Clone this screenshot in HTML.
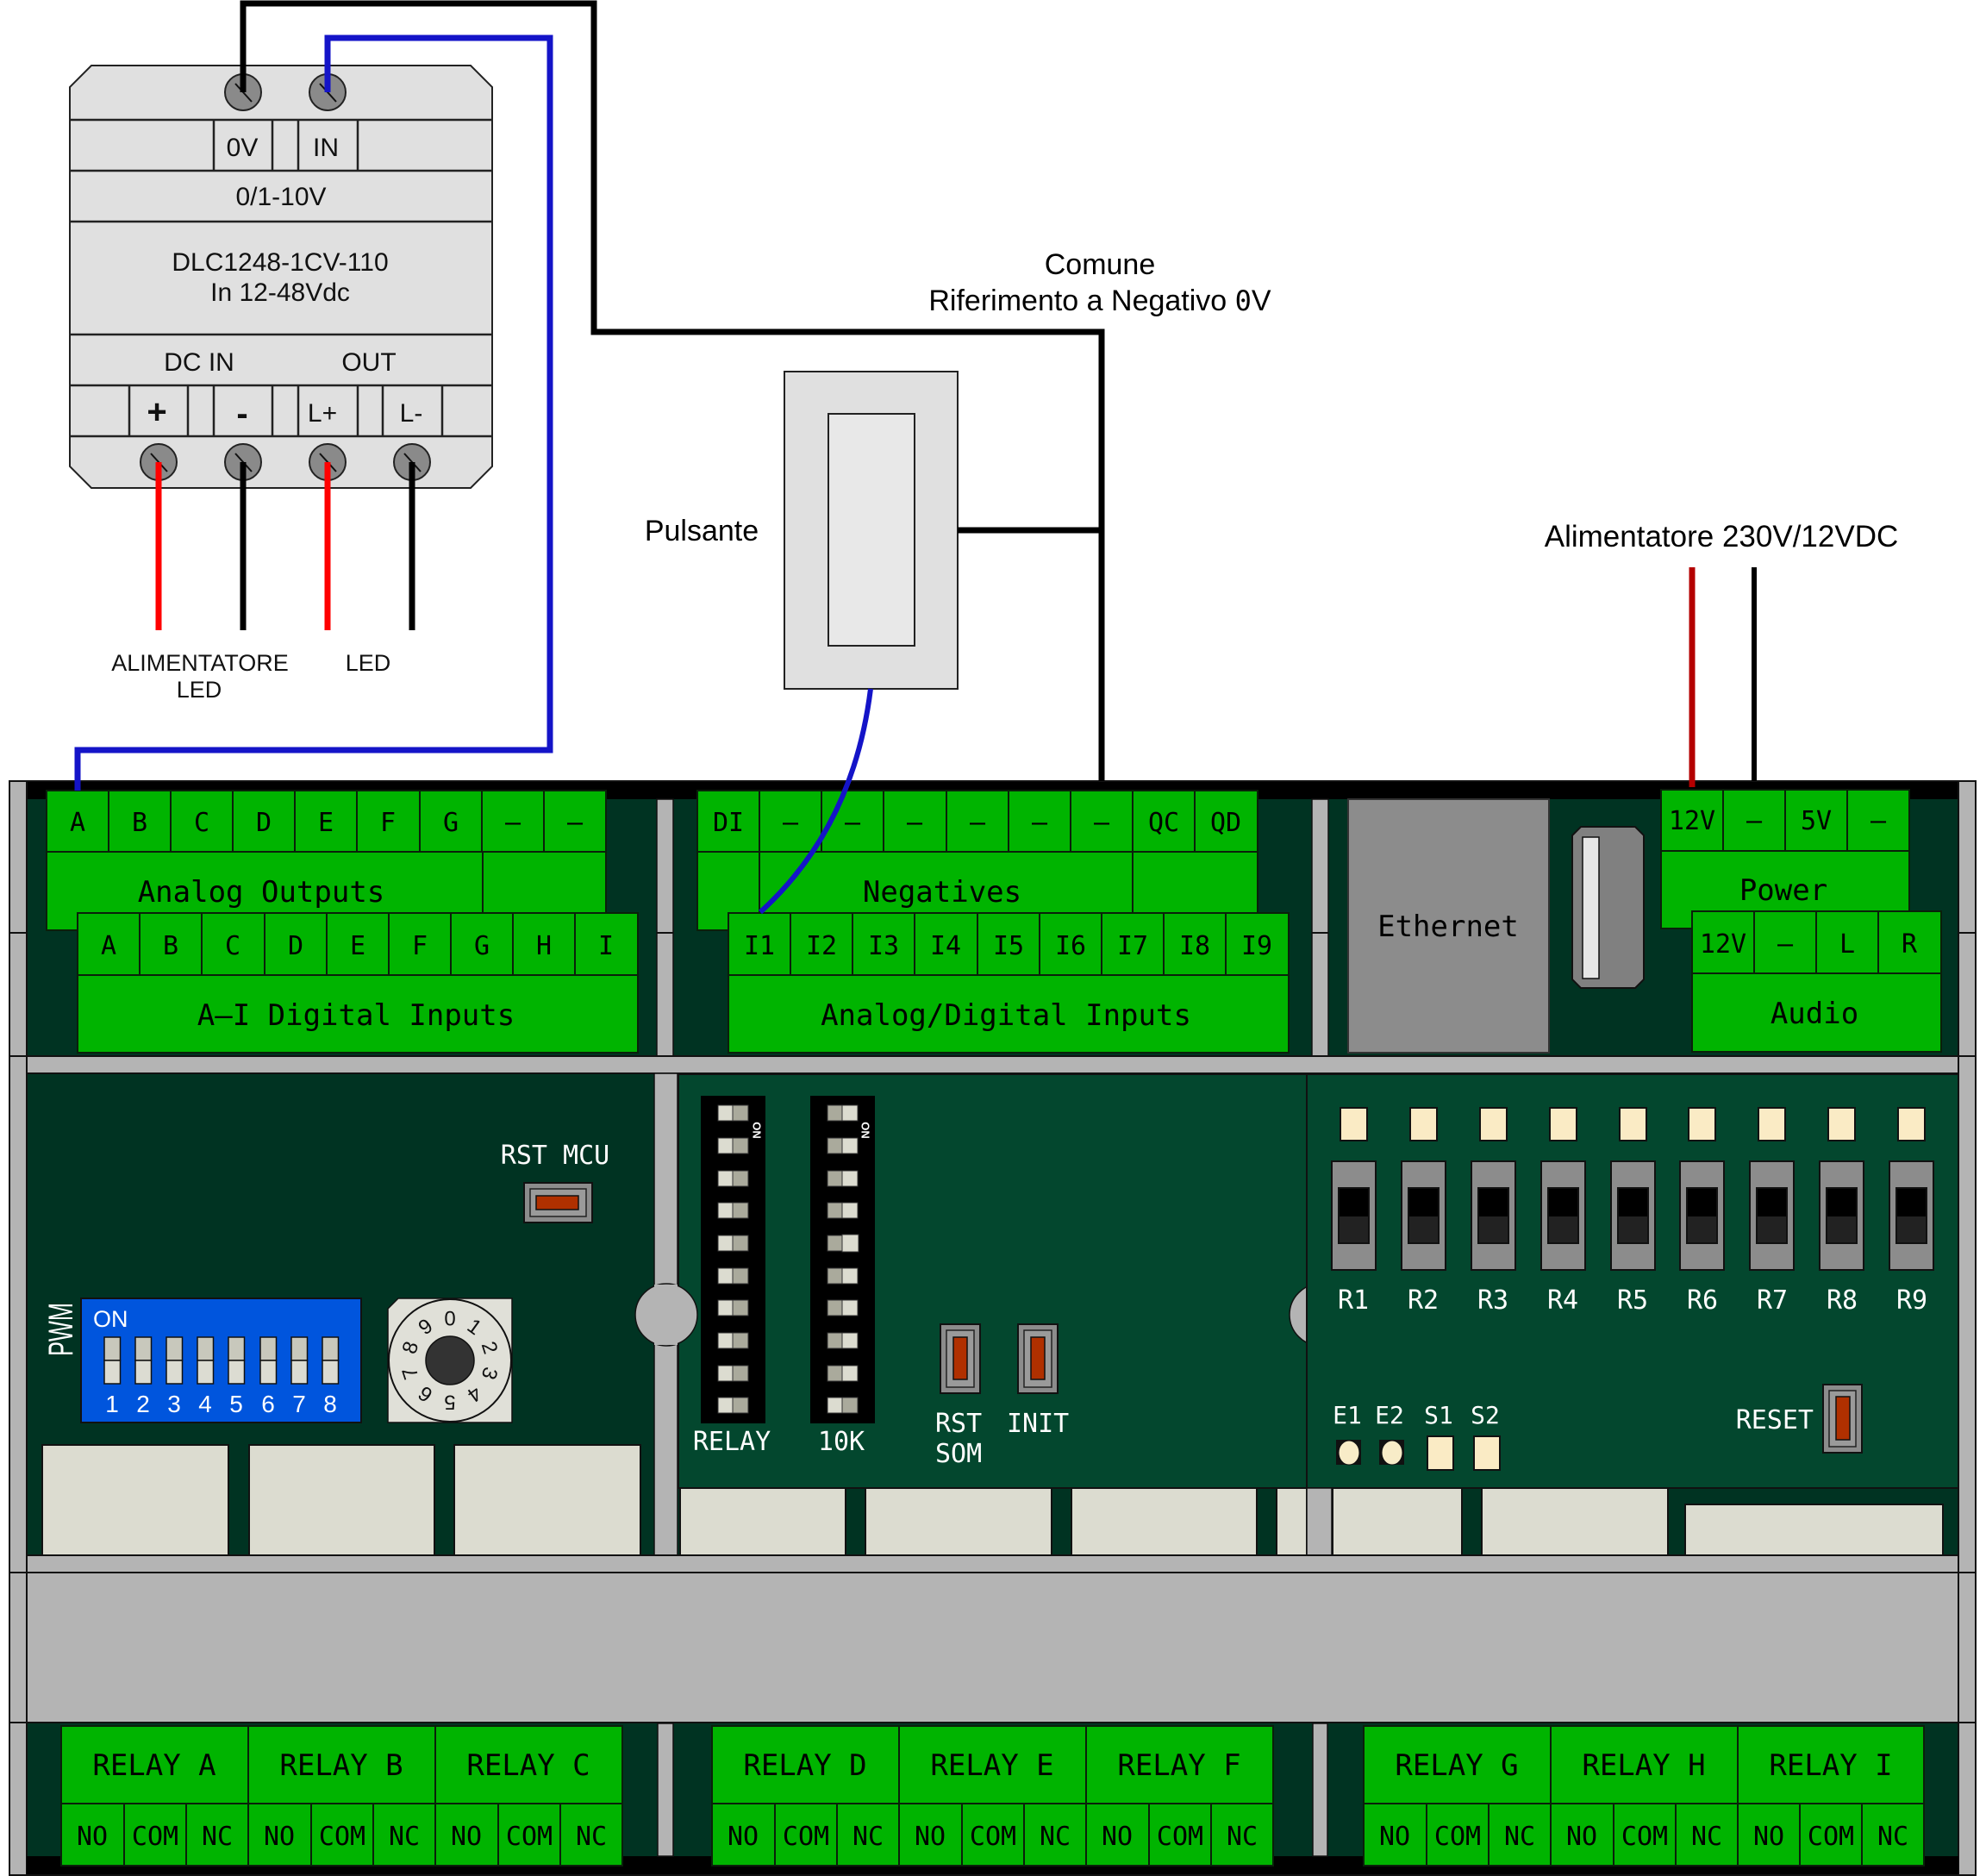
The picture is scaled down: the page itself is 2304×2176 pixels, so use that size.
<!DOCTYPE html>
<html><head><meta charset="utf-8"><style>
html,body{margin:0;padding:0;background:#fff;}
body{width:2304px;height:2176px;overflow:hidden;}
svg{display:block;}
.s{font-family:"Liberation Sans",Arial,sans-serif;}
.m{font-family:"DejaVu Sans Mono","Liberation Mono",monospace;}
</style></head><body>
<svg xmlns="http://www.w3.org/2000/svg" width="2304" height="2176" viewBox="0 0 2304 2176">
<rect x="0" y="0" width="2304" height="2176" fill="#fff"/>

<!-- ===== DLC module ===== -->
<polygon points="106,76 546,76 571,101 571,541 546,566 106,566 81,541 81,101" fill="#e0e0e0" stroke="#222" stroke-width="2"/>
<g stroke="#222" stroke-width="2.5">
<line x1="81" y1="139" x2="571" y2="139"/><line x1="81" y1="198" x2="571" y2="198"/>
<line x1="81" y1="257" x2="571" y2="257"/><line x1="81" y1="388" x2="571" y2="388"/>
<line x1="81" y1="447" x2="571" y2="447"/><line x1="81" y1="506" x2="571" y2="506"/>
<line x1="248" y1="139" x2="248" y2="198"/><line x1="316" y1="139" x2="316" y2="198"/>
<line x1="346" y1="139" x2="346" y2="198"/><line x1="415" y1="139" x2="415" y2="198"/>
<line x1="150" y1="447" x2="150" y2="506"/><line x1="218" y1="447" x2="218" y2="506"/>
<line x1="248" y1="447" x2="248" y2="506"/><line x1="316" y1="447" x2="316" y2="506"/>
<line x1="346" y1="447" x2="346" y2="506"/><line x1="415" y1="447" x2="415" y2="506"/>
<line x1="444" y1="447" x2="444" y2="506"/><line x1="513" y1="447" x2="513" y2="506"/>
</g>
<g class="s" font-size="30" text-anchor="middle" fill="#111">
<text x="281" y="181">0V</text><text x="378" y="181">IN</text>
<text x="326" y="238">0/1-10V</text>
<text x="325" y="314">DLC1248-1CV-110</text>
<text x="325" y="349">In 12-48Vdc</text>
<text x="231" y="430">DC IN</text><text x="428" y="430">OUT</text>
<text x="182" y="491" font-size="40" font-weight="bold">+</text>
<text x="281" y="493" font-size="40" font-weight="bold">-</text>
<text x="374" y="489">L+</text><text x="477" y="489">L-</text>
</g>
<g fill="#8a8a8a" stroke="#222" stroke-width="2">
<circle cx="282" cy="107" r="21"/><circle cx="380" cy="107" r="21"/>
<circle cx="184" cy="536" r="21"/><circle cx="282" cy="536" r="21"/>
<circle cx="380" cy="536" r="21"/><circle cx="478" cy="536" r="21"/>
</g>
<g stroke="#111" stroke-width="2">
<line x1="273" y1="97" x2="292" y2="118"/><line x1="371" y1="97" x2="390" y2="118"/>
<line x1="175" y1="526" x2="194" y2="547"/><line x1="273" y1="526" x2="292" y2="547"/>
<line x1="371" y1="526" x2="390" y2="547"/><line x1="469" y1="526" x2="488" y2="547"/>
</g>
<g stroke-width="7">
<line x1="184" y1="536" x2="184" y2="731" stroke="#ff0000"/>
<line x1="282" y1="536" x2="282" y2="731" stroke="#000"/>
<line x1="380" y1="536" x2="380" y2="731" stroke="#ff0000"/>
<line x1="478" y1="536" x2="478" y2="731" stroke="#000"/>
</g>
<g class="s" font-size="27" text-anchor="middle" fill="#111">
<text x="232" y="778">ALIMENTATORE</text><text x="231" y="809">LED</text>
<text x="427" y="778">LED</text>
</g>

<!-- labels -->
<g class="s" font-size="34" text-anchor="middle" fill="#000">
<text x="1276" y="318">Comune</text>
<text x="1276" y="360">Riferimento a Negativo <tspan class="m" font-size="32">0</tspan>V</text>
<text x="814" y="627">Pulsante</text>
<text x="1997" y="634" font-size="35">Alimentatore 230V/12VDC</text>
</g>

<!-- Pulsante -->
<rect x="910" y="431" width="201" height="368" fill="#e0e0e0" stroke="#222" stroke-width="2"/>
<rect x="961" y="480" width="100" height="269" fill="#e8e8e8" stroke="#222" stroke-width="2"/>

<!-- ===== BOARD ===== -->
<rect x="31" y="906" width="2241" height="1270" fill="#003322"/>
<rect x="31" y="906" width="2241" height="21" fill="#000"/>
<!-- side bars -->
<g fill="#b4b4b4" stroke="#111" stroke-width="2">
<rect x="11" y="906" width="20" height="1269"/>
<rect x="2272" y="906" width="20" height="1269"/>
</g>
<g stroke="#111" stroke-width="2">
<line x1="11" y1="1082" x2="31" y2="1082"/><line x1="11" y1="1225" x2="31" y2="1225"/>
<line x1="11" y1="1824" x2="31" y2="1824"/><line x1="11" y1="1998" x2="31" y2="1998"/>
<line x1="2272" y1="1082" x2="2292" y2="1082"/><line x1="2272" y1="1225" x2="2292" y2="1225"/>
<line x1="2272" y1="1824" x2="2292" y2="1824"/><line x1="2272" y1="1998" x2="2292" y2="1998"/>
</g>
<!-- top section dividers -->
<g fill="#b4b4b4" stroke="#111" stroke-width="1.5">
<rect x="762" y="927" width="19" height="298"/>
<rect x="1522" y="927" width="19" height="298"/>
</g>
<g stroke="#111" stroke-width="2">
<line x1="762" y1="1082" x2="781" y2="1082"/><line x1="1522" y1="1082" x2="1541" y2="1082"/>
</g>
<!-- horizontal bar -->
<rect x="31" y="1225" width="2241" height="20" fill="#b4b4b4" stroke="#111" stroke-width="2"/>

<!-- lower section panels -->
<rect x="759" y="1245" width="27" height="559" fill="#b4b4b4" stroke="#111" stroke-width="1.5"/>
<rect x="787" y="1246" width="729" height="480" fill="#03472e" stroke="#111" stroke-width="2"/>
<circle cx="773" cy="1525" r="36" fill="#b4b4b4" stroke="#111" stroke-width="1.5"/>
<rect x="759" y="1490" width="27" height="70" fill="#b4b4b4"/>
<rect x="1516" y="1245" width="29" height="559" fill="#b4b4b4" stroke="#111" stroke-width="1.5"/>
<circle cx="1532" cy="1525" r="36" fill="#b4b4b4" stroke="#111" stroke-width="1.5"/>
<rect x="1516" y="1246" width="756" height="480" fill="#03472e" stroke="#111" stroke-width="2"/>

<!-- cream boxes -->
<g fill="#dcdcd0" stroke="#111" stroke-width="2">
<rect x="49" y="1676" width="216" height="128"/>
<rect x="289" y="1676" width="215" height="128"/>
<rect x="527" y="1676" width="216" height="128"/>
<rect x="789" y="1726" width="192" height="78"/>
<rect x="1004" y="1726" width="216" height="78"/>
<rect x="1243" y="1726" width="215" height="78"/>
<rect x="1481" y="1726" width="35" height="78"/>
<rect x="1546" y="1726" width="150" height="78"/>
<rect x="1719" y="1726" width="216" height="78"/>
<rect x="1955" y="1745" width="299" height="59"/>
</g>
<rect x="1516" y="1726" width="29" height="78" fill="#b4b4b4" stroke="#111" stroke-width="1.5"/>

<!-- bottom gray -->
<rect x="31" y="1804" width="2241" height="20" fill="#b4b4b4" stroke="#111" stroke-width="2"/>
<rect x="31" y="1824" width="2241" height="174" fill="#b4b4b4" stroke="#111" stroke-width="2"/>
<rect x="31" y="2153" width="2241" height="23" fill="#000"/>
<g fill="#b4b4b4" stroke="#111" stroke-width="1.5">
<rect x="763" y="1999" width="18" height="154"/>
<rect x="1523" y="1999" width="17" height="154"/>
</g>

<!-- ===== TOP TERMINAL BLOCKS ===== -->
<g fill="#00b400" stroke="#0a200a" stroke-width="2">
<!-- Analog outputs -->
<rect x="54" y="988" width="506" height="91"/>
<rect x="560" y="988" width="143" height="91"/>
<rect x="54" y="917" width="72" height="71"/><rect x="126" y="917" width="72" height="71"/>
<rect x="198" y="917" width="72" height="71"/><rect x="270" y="917" width="72" height="71"/>
<rect x="342" y="917" width="72" height="71"/><rect x="414" y="917" width="73" height="71"/>
<rect x="487" y="917" width="72" height="71"/><rect x="559" y="917" width="72" height="71"/>
<rect x="631" y="917" width="72" height="71"/>
<!-- A-I digital -->
<rect x="90" y="1131" width="650" height="90"/>
<rect x="90" y="1059" width="72" height="72"/><rect x="162" y="1059" width="72" height="72"/>
<rect x="234" y="1059" width="73" height="72"/><rect x="307" y="1059" width="72" height="72"/>
<rect x="379" y="1059" width="72" height="72"/><rect x="451" y="1059" width="72" height="72"/>
<rect x="523" y="1059" width="72" height="72"/><rect x="595" y="1059" width="72" height="72"/>
<rect x="667" y="1059" width="73" height="72"/>
<!-- Negatives -->
<rect x="809" y="988" width="72" height="91"/>
<rect x="881" y="988" width="433" height="91"/>
<rect x="1314" y="988" width="145" height="91"/>
<rect x="809" y="917" width="72" height="71"/><rect x="881" y="917" width="72" height="71"/>
<rect x="953" y="917" width="72" height="71"/><rect x="1025" y="917" width="73" height="71"/>
<rect x="1098" y="917" width="72" height="71"/><rect x="1170" y="917" width="72" height="71"/>
<rect x="1242" y="917" width="72" height="71"/><rect x="1314" y="917" width="72" height="71"/>
<rect x="1386" y="917" width="73" height="71"/>
<!-- I1-I9 -->
<rect x="845" y="1131" width="650" height="90"/>
<rect x="845" y="1059" width="72" height="72"/><rect x="917" y="1059" width="72" height="72"/>
<rect x="989" y="1059" width="72" height="72"/><rect x="1061" y="1059" width="73" height="72"/>
<rect x="1134" y="1059" width="72" height="72"/><rect x="1206" y="1059" width="72" height="72"/>
<rect x="1278" y="1059" width="72" height="72"/><rect x="1350" y="1059" width="72" height="72"/>
<rect x="1422" y="1059" width="73" height="72"/>
<!-- Power -->
<rect x="1927" y="987" width="288" height="90"/>
<rect x="1927" y="916" width="72" height="71"/><rect x="1999" y="916" width="72" height="71"/>
<rect x="2071" y="916" width="72" height="71"/><rect x="2143" y="916" width="72" height="71"/>
<!-- Audio -->
<rect x="1963" y="1129" width="289" height="91"/>
<rect x="1963" y="1057" width="72" height="72"/><rect x="2035" y="1057" width="72" height="72"/>
<rect x="2107" y="1057" width="72" height="72"/><rect x="2179" y="1057" width="73" height="72"/>
</g>
<g class="m" font-size="30" text-anchor="middle" fill="#000">
<text x="90" y="964">A</text><text x="162" y="964">B</text><text x="234" y="964">C</text>
<text x="306" y="964">D</text><text x="378" y="964">E</text><text x="450" y="964">F</text>
<text x="523" y="964">G</text><text x="595" y="964">–</text><text x="667" y="964">–</text>
<text x="126" y="1107">A</text><text x="198" y="1107">B</text><text x="270" y="1107">C</text>
<text x="343" y="1107">D</text><text x="415" y="1107">E</text><text x="487" y="1107">F</text>
<text x="559" y="1107">G</text><text x="631" y="1107">H</text><text x="703" y="1107">I</text>
<text x="845" y="964">DI</text><text x="917" y="964">–</text><text x="989" y="964">–</text>
<text x="1061" y="964">–</text><text x="1134" y="964">–</text><text x="1206" y="964">–</text>
<text x="1278" y="964">–</text><text x="1350" y="964">QC</text><text x="1422" y="964">QD</text>
<text x="881" y="1107">I1</text><text x="953" y="1107">I2</text><text x="1025" y="1107">I3</text>
<text x="1097" y="1107">I4</text><text x="1170" y="1107">I5</text><text x="1242" y="1107">I6</text>
<text x="1314" y="1107">I7</text><text x="1386" y="1107">I8</text><text x="1458" y="1107">I9</text>
<text x="1963" y="962">12V</text><text x="2035" y="962">–</text>
<text x="2107" y="962">5V</text><text x="2179" y="962">–</text>
<text x="1999" y="1105">12V</text><text x="2071" y="1105">–</text>
<text x="2143" y="1105">L</text><text x="2215" y="1105">R</text>
</g>
<g class="m" font-size="34" text-anchor="middle" fill="#000">
<text x="303" y="1046">Analog Outputs</text>
<text x="413" y="1189">A–I Digital Inputs</text>
<text x="1093" y="1046">Negatives</text>
<text x="1167" y="1189">Analog/Digital Inputs</text>
<text x="2069" y="1044">Power</text>
<text x="2105" y="1187">Audio</text>
</g>

<!-- Ethernet & USB -->
<rect x="1564" y="927" width="233" height="294" fill="#8c8c8c" stroke="#333" stroke-width="2"/>
<text x="1680" y="1086" class="m" font-size="34" text-anchor="middle" fill="#000">Ethernet</text>
<polygon points="1834,959 1897,959 1907,969 1907,1136 1897,1146 1834,1146 1824,1136 1824,969" fill="#808080" stroke="#111" stroke-width="2"/>
<rect x="1836" y="971" width="19" height="164" fill="#e6e6e6" stroke="#111" stroke-width="1.5"/>

<!-- ===== LOWER LEFT ===== -->
<text x="644" y="1350" class="m" font-size="30" text-anchor="middle" fill="#fff">RST MCU</text>
<rect x="608" y="1372" width="79" height="46" fill="#8c8c8c" stroke="#111" stroke-width="2"/>
<rect x="615" y="1379" width="65" height="32" fill="#9a9a9a" stroke="#222" stroke-width="1.5"/>
<rect x="622" y="1387" width="49" height="16" fill="#b03000" stroke="#111" stroke-width="1.5"/>

<text class="s" font-size="40" fill="#fff" text-anchor="middle" textLength="62" lengthAdjust="spacingAndGlyphs" transform="translate(84,1542) rotate(-90)">PWM</text>

<rect x="94" y="1506" width="325" height="144" fill="#0055dd" stroke="#111" stroke-width="2"/>
<text x="108" y="1539" class="s" font-size="27" fill="#fff">ON</text>
<g stroke="#111" stroke-width="1.5">
<g fill="#c8c8bc">
<rect x="121" y="1551" width="18.5" height="27"/><rect x="157" y="1551" width="18.5" height="27"/>
<rect x="193" y="1551" width="18.5" height="27"/><rect x="229" y="1551" width="18.5" height="27"/>
<rect x="265" y="1551" width="18.5" height="27"/><rect x="302" y="1551" width="18.5" height="27"/>
<rect x="338" y="1551" width="18.5" height="27"/><rect x="374" y="1551" width="18.5" height="27"/>
</g>
<g fill="#dcdcd2">
<rect x="121" y="1578" width="18.5" height="27"/><rect x="157" y="1578" width="18.5" height="27"/>
<rect x="193" y="1578" width="18.5" height="27"/><rect x="229" y="1578" width="18.5" height="27"/>
<rect x="265" y="1578" width="18.5" height="27"/><rect x="302" y="1578" width="18.5" height="27"/>
<rect x="338" y="1578" width="18.5" height="27"/><rect x="374" y="1578" width="18.5" height="27"/>
</g>
</g>
<g class="s" font-size="28" fill="#fff" text-anchor="middle">
<text x="130" y="1638">1</text><text x="166" y="1638">2</text><text x="202" y="1638">3</text>
<text x="238" y="1638">4</text><text x="274" y="1638">5</text><text x="311" y="1638">6</text>
<text x="347" y="1638">7</text><text x="383" y="1638">8</text>
</g>

<!-- rotary -->
<polygon points="462,1506 594,1506 594,1650 450,1650 450,1518" fill="#e0e0d8" stroke="#111" stroke-width="1.5"/>
<circle cx="522" cy="1578" r="71" fill="#e0e0d8" stroke="#111" stroke-width="2"/>
<circle cx="522" cy="1578" r="28" fill="#333" stroke="#111" stroke-width="1.5"/>
<g class="s" font-size="24" fill="#111" text-anchor="middle">
<text transform="translate(522,1529) rotate(0)" dy="0.36em">0</text>
<text transform="translate(550.8,1538.4) rotate(36)" dy="0.36em">1</text>
<text transform="translate(568.6,1562.9) rotate(72)" dy="0.36em">2</text>
<text transform="translate(568.6,1593.1) rotate(108)" dy="0.36em">3</text>
<text transform="translate(550.8,1617.6) rotate(144)" dy="0.36em">4</text>
<text transform="translate(522,1627) rotate(180)" dy="0.36em">5</text>
<text transform="translate(493.2,1617.6) rotate(216)" dy="0.36em">6</text>
<text transform="translate(475.4,1593.1) rotate(252)" dy="0.36em">7</text>
<text transform="translate(475.4,1562.9) rotate(288)" dy="0.36em">8</text>
<text transform="translate(493.2,1538.4) rotate(324)" dy="0.36em">9</text>
</g>

<!-- ===== LOWER MIDDLE ===== -->
<rect x="813" y="1271" width="75" height="380" fill="#000"/>
<rect x="940" y="1271" width="75" height="380" fill="#000"/>
<g stroke="#333" stroke-width="1">
<g fill="#dcdcd0">
<rect x="833" y="1282" width="17" height="18"/><rect x="833" y="1320" width="17" height="18"/>
<rect x="833" y="1358" width="17" height="18"/><rect x="833" y="1395" width="17" height="18"/>
<rect x="833" y="1433" width="17" height="18"/><rect x="833" y="1471" width="17" height="18"/>
<rect x="833" y="1508" width="17" height="18"/><rect x="833" y="1546" width="17" height="18"/>
<rect x="833" y="1584" width="17" height="18"/><rect x="833" y="1621" width="17" height="18"/>
<rect x="977" y="1282" width="18" height="18"/><rect x="977" y="1320" width="18" height="18"/>
<rect x="977" y="1358" width="18" height="18"/><rect x="977" y="1395" width="18" height="18"/>
<rect x="977" y="1432" width="19" height="20"/><rect x="977" y="1471" width="18" height="18"/>
<rect x="977" y="1508" width="18" height="18"/><rect x="977" y="1546" width="18" height="18"/>
<rect x="977" y="1584" width="18" height="18"/><rect x="960" y="1621" width="17" height="18"/>
</g>
<g fill="#aaaa9c">
<rect x="850" y="1282" width="18" height="18"/><rect x="850" y="1320" width="18" height="18"/>
<rect x="850" y="1358" width="18" height="18"/><rect x="850" y="1395" width="18" height="18"/>
<rect x="850" y="1433" width="18" height="18"/><rect x="850" y="1471" width="18" height="18"/>
<rect x="850" y="1508" width="18" height="18"/><rect x="850" y="1546" width="18" height="18"/>
<rect x="850" y="1584" width="18" height="18"/><rect x="850" y="1621" width="18" height="18"/>
<rect x="960" y="1282" width="17" height="18"/><rect x="960" y="1320" width="17" height="18"/>
<rect x="960" y="1358" width="17" height="18"/><rect x="960" y="1395" width="17" height="18"/>
<rect x="960" y="1433" width="17" height="18"/><rect x="960" y="1471" width="17" height="18"/>
<rect x="960" y="1508" width="17" height="18"/><rect x="960" y="1546" width="17" height="18"/>
<rect x="960" y="1584" width="17" height="18"/><rect x="977" y="1621" width="18" height="18"/>
</g>
</g>
<g class="s" font-size="13" font-weight="bold" fill="#fff" text-anchor="middle">
<text transform="translate(878,1311) rotate(90)" dy="0.35em">ON</text>
<text transform="translate(1004,1311) rotate(90)" dy="0.35em">ON</text>
</g>
<g class="m" font-size="30" fill="#fff">
<text x="849" y="1682" text-anchor="middle">RELAY</text>
<text x="976" y="1682" text-anchor="middle">10K</text>
<text x="1085" y="1661">RST</text>
<text x="1085" y="1696">SOM</text>
<text x="1168" y="1661">INIT</text>
</g>
<g>
<rect x="1091" y="1536" width="46" height="80" fill="#8c8c8c" stroke="#111" stroke-width="2"/>
<rect x="1098" y="1543" width="32" height="66" fill="#9a9a9a" stroke="#222" stroke-width="1.5"/>
<rect x="1106" y="1551" width="16" height="49" fill="#b03000" stroke="#111" stroke-width="1.5"/>
<rect x="1181" y="1536" width="46" height="80" fill="#8c8c8c" stroke="#111" stroke-width="2"/>
<rect x="1188" y="1543" width="32" height="66" fill="#9a9a9a" stroke="#222" stroke-width="1.5"/>
<rect x="1196" y="1551" width="16" height="49" fill="#b03000" stroke="#111" stroke-width="1.5"/>
</g>

<!-- ===== LOWER RIGHT ===== -->
<g fill="#faebc5" stroke="#111" stroke-width="2">
<rect x="1555" y="1285" width="31" height="38"/><rect x="1636" y="1285" width="31" height="38"/>
<rect x="1717" y="1285" width="31" height="38"/><rect x="1798" y="1285" width="31" height="38"/>
<rect x="1879" y="1285" width="31" height="38"/><rect x="1959" y="1285" width="31" height="38"/>
<rect x="2040" y="1285" width="31" height="38"/><rect x="2121" y="1285" width="31" height="38"/>
<rect x="2202" y="1285" width="31" height="38"/>
</g>
<g stroke="#111" stroke-width="2">
<g fill="#8c8c8c">
<rect x="1545" y="1347" width="51" height="126"/><rect x="1626" y="1347" width="51" height="126"/>
<rect x="1707" y="1347" width="51" height="126"/><rect x="1788" y="1347" width="51" height="126"/>
<rect x="1869" y="1347" width="51" height="126"/><rect x="1949" y="1347" width="51" height="126"/>
<rect x="2030" y="1347" width="51" height="126"/><rect x="2111" y="1347" width="51" height="126"/>
<rect x="2192" y="1347" width="51" height="126"/>
</g>
<g fill="#222">
<rect x="1553" y="1378" width="35" height="64"/><rect x="1634" y="1378" width="35" height="64"/>
<rect x="1715" y="1378" width="35" height="64"/><rect x="1796" y="1378" width="35" height="64"/>
<rect x="1877" y="1378" width="35" height="64"/><rect x="1957" y="1378" width="35" height="64"/>
<rect x="2038" y="1378" width="35" height="64"/><rect x="2119" y="1378" width="35" height="64"/>
<rect x="2200" y="1378" width="35" height="64"/>
</g>
</g>
<g fill="#000">
<rect x="1554" y="1379" width="33" height="32"/><rect x="1635" y="1379" width="33" height="32"/>
<rect x="1716" y="1379" width="33" height="32"/><rect x="1797" y="1379" width="33" height="32"/>
<rect x="1878" y="1379" width="33" height="32"/><rect x="1958" y="1379" width="33" height="32"/>
<rect x="2039" y="1379" width="33" height="32"/><rect x="2120" y="1379" width="33" height="32"/>
<rect x="2201" y="1379" width="33" height="32"/>
</g>
<g class="m" font-size="30" fill="#fff" text-anchor="middle">
<text x="1570" y="1518">R1</text><text x="1651" y="1518">R2</text><text x="1732" y="1518">R3</text>
<text x="1813" y="1518">R4</text><text x="1894" y="1518">R5</text><text x="1975" y="1518">R6</text>
<text x="2056" y="1518">R7</text><text x="2137" y="1518">R8</text><text x="2218" y="1518">R9</text>
</g>
<g class="m" font-size="28" fill="#fff" text-anchor="middle">
<text x="1563" y="1651">E1</text><text x="1612" y="1651">E2</text>
<text x="1669" y="1651">S1</text><text x="1723" y="1651">S2</text>
</g>
<rect x="1550" y="1670" width="29" height="29" fill="#111"/>
<rect x="1600" y="1670" width="29" height="29" fill="#111"/>
<ellipse cx="1565" cy="1685" rx="12" ry="14" fill="#f8ecc8" stroke="#111" stroke-width="1"/>
<ellipse cx="1615" cy="1685" rx="12" ry="14" fill="#f8ecc8" stroke="#111" stroke-width="1"/>
<rect x="1656" y="1666" width="30" height="39" fill="#faebc5" stroke="#111" stroke-width="2"/>
<rect x="1710" y="1666" width="30" height="39" fill="#faebc5" stroke="#111" stroke-width="2"/>
<text x="2104" y="1657" class="m" font-size="30" fill="#fff" text-anchor="end">RESET</text>
<rect x="2115" y="1606" width="45" height="79" fill="#8c8c8c" stroke="#111" stroke-width="2"/>
<rect x="2122" y="1613" width="31" height="65" fill="#9a9a9a" stroke="#222" stroke-width="1.5"/>
<rect x="2130" y="1620" width="16" height="50" fill="#b03000" stroke="#111" stroke-width="1.5"/>

<!-- ===== RELAY BLOCKS ===== -->
<g fill="#00b400" stroke="#0a200a" stroke-width="2">
<rect x="71" y="2002" width="217" height="90"/><rect x="288" y="2002" width="217" height="90"/><rect x="505" y="2002" width="217" height="90"/>
<rect x="71" y="2092" width="73" height="72"/><rect x="144" y="2092" width="72" height="72"/><rect x="216" y="2092" width="72" height="72"/>
<rect x="288" y="2092" width="73" height="72"/><rect x="361" y="2092" width="72" height="72"/><rect x="433" y="2092" width="72" height="72"/>
<rect x="505" y="2092" width="73" height="72"/><rect x="578" y="2092" width="72" height="72"/><rect x="650" y="2092" width="72" height="72"/>

<rect x="826" y="2002" width="217" height="90"/><rect x="1043" y="2002" width="217" height="90"/><rect x="1260" y="2002" width="217" height="90"/>
<rect x="826" y="2092" width="73" height="72"/><rect x="899" y="2092" width="72" height="72"/><rect x="971" y="2092" width="72" height="72"/>
<rect x="1043" y="2092" width="73" height="72"/><rect x="1116" y="2092" width="72" height="72"/><rect x="1188" y="2092" width="72" height="72"/>
<rect x="1260" y="2092" width="73" height="72"/><rect x="1333" y="2092" width="72" height="72"/><rect x="1405" y="2092" width="72" height="72"/>

<rect x="1582" y="2002" width="217" height="90"/><rect x="1799" y="2002" width="217" height="90"/><rect x="2016" y="2002" width="216" height="90"/>
<rect x="1582" y="2092" width="73" height="72"/><rect x="1655" y="2092" width="72" height="72"/><rect x="1727" y="2092" width="72" height="72"/>
<rect x="1799" y="2092" width="73" height="72"/><rect x="1872" y="2092" width="72" height="72"/><rect x="1944" y="2092" width="72" height="72"/>
<rect x="2016" y="2092" width="72" height="72"/><rect x="2088" y="2092" width="72" height="72"/><rect x="2160" y="2092" width="72" height="72"/>
</g>
<g class="m" font-size="34" text-anchor="middle" fill="#000">
<text x="179" y="2059">RELAY A</text><text x="396" y="2059">RELAY B</text><text x="613" y="2059">RELAY C</text>
<text x="934" y="2059">RELAY D</text><text x="1151" y="2059">RELAY E</text><text x="1368" y="2059">RELAY F</text>
<text x="1690" y="2059">RELAY G</text><text x="1907" y="2059">RELAY H</text><text x="2124" y="2059">RELAY I</text>
</g>
<g class="m" font-size="30" text-anchor="middle" fill="#000">
<text x="107" y="2140">NO</text><text x="180" y="2140">COM</text><text x="252" y="2140">NC</text>
<text x="324" y="2140">NO</text><text x="397" y="2140">COM</text><text x="469" y="2140">NC</text>
<text x="541" y="2140">NO</text><text x="614" y="2140">COM</text><text x="686" y="2140">NC</text>
<text x="862" y="2140">NO</text><text x="935" y="2140">COM</text><text x="1007" y="2140">NC</text>
<text x="1079" y="2140">NO</text><text x="1152" y="2140">COM</text><text x="1224" y="2140">NC</text>
<text x="1296" y="2140">NO</text><text x="1369" y="2140">COM</text><text x="1441" y="2140">NC</text>
<text x="1618" y="2140">NO</text><text x="1691" y="2140">COM</text><text x="1763" y="2140">NC</text>
<text x="1835" y="2140">NO</text><text x="1908" y="2140">COM</text><text x="1980" y="2140">NC</text>
<text x="2052" y="2140">NO</text><text x="2124" y="2140">COM</text><text x="2196" y="2140">NC</text>
</g>

<!-- board outline -->
<rect x="11" y="906" width="2281" height="1269" fill="none" stroke="#111" stroke-width="2"/>

<!-- ===== WIRES ===== -->
<polyline points="282,107 282,4 689,4 689,385 1278,385 1278,906" fill="none" stroke="#000" stroke-width="7" stroke-linejoin="miter"/>
<line x1="1111" y1="615" x2="1281" y2="615" stroke="#000" stroke-width="7"/>
<polyline points="380,107 380,44 638,44 638,870 90,870 90,917" fill="none" stroke="#1414c8" stroke-width="7" stroke-linejoin="miter"/>
<path d="M1010,799 Q990,960 882,1058" fill="none" stroke="#1414c8" stroke-width="6"/>
<line x1="1963" y1="658" x2="1963" y2="913" stroke="#b40000" stroke-width="7"/>
<line x1="2035" y1="658" x2="2035" y2="906" stroke="#000" stroke-width="6"/>
</svg>
</body></html>
